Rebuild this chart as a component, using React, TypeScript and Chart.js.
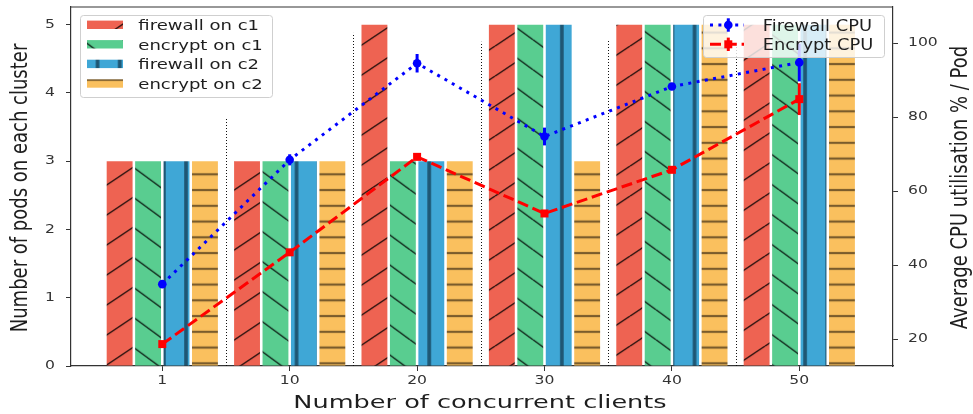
import React, { useEffect, useRef } from 'react';
import { Chart, registerables } from 'chart.js';

Chart.register(...registerables);

// ---------- data ----------
const CLIENTS = ['1', '10', '20', '30', '40', '50'];
const X_POS = [0, 1, 2, 3, 4, 5];
const FIREWALL_C1 = [3, 3, 5, 5, 5, 5];
const ENCRYPT_C1 = [3, 3, 3, 5, 5, 5];
const FIREWALL_C2 = [3, 3, 3, 5, 5, 5];
const ENCRYPT_C2 = [3, 3, 3, 3, 5, 5];
const FIREWALL_CPU = [34.9, 68.5, 94.6, 74.8, 88.3, 94.8];
const FIREWALL_CPU_ERR = [0.5, 1.5, 2.5, 2.4, 0.4, 5.1];
const ENCRYPT_CPU = [18.7, 43.5, 69.3, 54.0, 65.8, 84.9];
const ENCRYPT_CPU_ERR = [0.5, 0.5, 0.6, 0.5, 0.8, 4.3];
const LEFT_TICKS = [0, 1, 2, 3, 4, 5];
const RIGHT_TICKS = [20, 40, 60, 80, 100];
const SEPARATOR_X = [0.5, 1.5, 2.5, 3.5, 4.5];
const SEPARATOR_TOP = [3.63, 4.88, 4.75, 4.79, 4.7];
const BAR_LABELS = ['firewall on c1', 'encrypt on c1', 'firewall on c2', 'encrypt on c2'];
const LINE_LABELS = ['Firewall CPU', 'Encrypt CPU'];
const X_TITLE = 'Number of concurrent clients';
const Y_TITLE = 'Number of pods on each cluster';
const Y1_TITLE = 'Average CPU utilisation % / Pod';

const FONT = '"DejaVu Sans", sans-serif';
const BAR_COLORS = ['#EE6352', '#59CD90', '#3FA7D6', '#FAC05E'];

function makePattern(ctx: CanvasRenderingContext2D, kind: string, base: string): CanvasPattern {
  const c = document.createElement('canvas');
  let w = 10, h = 10;
  if (kind === '/') { w = 45; h = 30; }
  if (kind === '\\') { w = 41; h = 30; }
  if (kind === '|') { w = 22; h = 4; }
  if (kind === '-') { w = 4; h = 16; }
  c.width = w; c.height = h;
  const g = c.getContext('2d')!;
  g.fillStyle = base;
  g.fillRect(0, 0, w, h);
  if (kind === '/' || kind === '\\') {
    g.strokeStyle = 'rgba(0,0,0,0.85)';
    g.lineWidth = 1.4;
    for (let k = -1; k <= 1; k++) {
      g.beginPath();
      if (kind === '/') { g.moveTo(0, h + k * h); g.lineTo(w, k * h); }
      else { g.moveTo(0, k * h); g.lineTo(w, h + k * h); }
      g.stroke();
    }
  } else if (kind === '|') {
    g.fillStyle = '#1f5673';
    g.fillRect(9.2, 0, 3.6, h);
  } else if (kind === '-') {
    g.fillStyle = '#7a5c2c';
    g.fillRect(0, 6.9, w, 2.2);
  }
  const p = ctx.createPattern(c, 'repeat')!;
  let m = new DOMMatrix();
  if (kind === '/') m = m.translate(0, 16.1);
  if (kind === '\\') m = m.translate(0, 9.7);
  if (kind === '|') m = m.translate(-1.95, 0).scale(22.11 / 22, 1);
  if (kind === '-') m = m.translate(0, -6.83).scale(1, 15.75 / 16);
  p.setTransform(m);
  return p;
}

export default function App() {
  const ref = useRef<HTMLCanvasElement>(null);

  useEffect(() => {
    const canvas = ref.current!;
    const ctx = canvas.getContext('2d')!;
    const origFill = CanvasRenderingContext2D.prototype.fillText;
    const stretch = { sx: 1.3 };
    // horizontal (screen-x) stretch of text glyphs around their anchor point
    (ctx as any).fillText = function (text: string, x: number, y: number, maxWidth?: number) {
      const m = ctx.getTransform();
      const p = m.transformPoint(new DOMPoint(x, y));
      ctx.save();
      ctx.setTransform(new DOMMatrix().translate(p.x, p.y).scale(stretch.sx, 1).translate(-p.x, -p.y).multiply(m));
      if (maxWidth === undefined) origFill.call(ctx, text, x, y);
      else origFill.call(ctx, text, x, y, maxWidth);
      ctx.restore();
    };

    const patterns = [
      makePattern(ctx, '/', BAR_COLORS[0]),
      makePattern(ctx, '\\', BAR_COLORS[1]),
      makePattern(ctx, '|', BAR_COLORS[2]),
      makePattern(ctx, '-', BAR_COLORS[3]),
    ];
    const barSeries = [FIREWALL_C1, ENCRYPT_C1, FIREWALL_C2, ENCRYPT_C2];

    const drawText = (text: string, x: number, y: number, font: string, sx: number,
      align: CanvasTextAlign, rot = 0, color = '#1e1e1e') => {
      ctx.save();
      ctx.translate(x, y);
      ctx.scale(sx, 1);
      if (rot) ctx.rotate(rot);
      ctx.font = font;
      ctx.fillStyle = color;
      ctx.textAlign = align;
      ctx.textBaseline = 'alphabetic';
      origFill.call(ctx, text, 0, 0);
      ctx.restore();
    };

    const drawMarker = (kind: string, x: number, y: number, color: string) => {
      ctx.fillStyle = color;
      if (kind === 'circle') {
        ctx.beginPath(); ctx.arc(x, y, 4.3, 0, Math.PI * 2); ctx.fill();
      } else {
        ctx.fillRect(x - 4, y - 4, 8, 8);
      }
    };

    const plugin = {
      id: 'extras',
      beforeDatasetsDraw(chart: any) {
        const { x, y } = chart.scales;
        ctx.save();
        ctx.strokeStyle = '#111';
        ctx.lineWidth = 1;
        ctx.setLineDash([1, 2]);
        SEPARATOR_X.forEach((v, i) => {
          const px = Math.round(x.getPixelForValue(v)) + 0.5;
          ctx.beginPath();
          ctx.moveTo(px, y.getPixelForValue(0));
          ctx.lineTo(px, y.getPixelForValue(SEPARATOR_TOP[i]));
          ctx.stroke();
        });
        ctx.restore();
      },
      afterDatasetsDraw(chart: any) {
        const { x, y1 } = chart.scales;
        ctx.save();
        ctx.lineWidth = 3;
        const sets: [number[], number[], string][] = [
          [FIREWALL_CPU, FIREWALL_CPU_ERR, '#0000ff'],
          [ENCRYPT_CPU, ENCRYPT_CPU_ERR, '#ff0000'],
        ];
        sets.forEach(([vals, errs, col]) => {
          ctx.strokeStyle = col;
          vals.forEach((v, i) => {
            const px = x.getPixelForValue(X_POS[i]);
            ctx.beginPath();
            ctx.moveTo(px, y1.getPixelForValue(v - errs[i]));
            ctx.lineTo(px, y1.getPixelForValue(v + errs[i]));
            ctx.stroke();
          });
        });
        ctx.restore();
      },
      afterDraw(chart: any) {
        const area = chart.chartArea;
        ctx.save();
        // top spine
        ctx.strokeStyle = '#333';
        ctx.lineWidth = 1.2;
        ctx.beginPath();
        ctx.moveTo(area.left, area.top);
        ctx.lineTo(area.right, area.top);
        ctx.stroke();

        const roundBox = (x0: number, y0: number, x1: number, y1: number) => {
          ctx.beginPath();
          ctx.roundRect(x0 + 0.5, y0 + 0.5, x1 - x0, y1 - y0, 3);
          ctx.fillStyle = 'rgba(255,255,255,0.8)';
          ctx.fill();
          ctx.strokeStyle = '#cfcfcf';
          ctx.lineWidth = 1;
          ctx.stroke();
        };
        // bar legend
        roundBox(80, 15, 272, 97);
        const rows1 = [24.8, 44.3, 63.9, 83.5];
        BAR_LABELS.forEach((lab, i) => {
          ctx.fillStyle = patterns[i];
          ctx.fillRect(87, rows1[i] - 4.2, 36, 8.4);
          drawText(lab, 138.3, rows1[i] + 5.2, `14px ${FONT}`, 1.29, 'left');
        });

        // line legend
        roundBox(703, 15, 884, 57);
        const rows2 = [25, 44.3];
        const styles = [
          { col: '#0000ff', dash: [3, 5.4], marker: 'circle' },
          { col: '#ff0000', dash: [11, 4.8], marker: 'rect' },
        ];
        LINE_LABELS.forEach((lab, i) => {
          const s = styles[i];
          const yy = rows2[i];
          ctx.save();
          ctx.strokeStyle = s.col;
          ctx.lineWidth = 3;
          ctx.setLineDash(s.dash);
          ctx.beginPath(); ctx.moveTo(710, yy); ctx.lineTo(744, yy); ctx.stroke();
          ctx.setLineDash([]);
          ctx.beginPath(); ctx.moveTo(728.3, yy - 6.7); ctx.lineTo(728.3, yy + 6.7); ctx.stroke();
          drawMarker(s.marker, 728.3, yy, s.col);
          ctx.restore();
          drawText(lab, 762.7, yy + 5.5, `15px ${FONT}`, 1.19, 'left');
        });

        // axis titles
        drawText(X_TITLE, 480, 408, `18px ${FONT}`, 1.42, 'center');
        drawText(Y_TITLE, 26.5, 188, `18px ${FONT}`, 1.3, 'center', -Math.PI / 2);
        drawText(Y1_TITLE, 966.5, 187.5, `18px ${FONT}`, 1.3, 'center', -Math.PI / 2);
        ctx.restore();
      },
    };

    const axisCommon = (tickLen: number, pad: number) => ({
      grid: { display: true, drawOnChartArea: false, drawTicks: true, tickLength: tickLen, color: '#333', lineWidth: 1, offset: false },
      border: { display: true, color: '#333', width: 1.2 },
      ticks: { font: { family: FONT, size: 12 }, color: '#333', padding: pad, autoSkip: false, maxRotation: 0 },
      z: 1,
    });
    const noPad = (s: any) => { s.paddingTop = 0; s.paddingBottom = 0; s.paddingLeft = 0; s.paddingRight = 0; };

    const chart = new Chart(ctx, {
      type: 'bar',
      data: {
        datasets: [
          {
            type: 'line', label: LINE_LABELS[0],
            data: X_POS.map((x, i) => ({ x, y: FIREWALL_CPU[i] })),
            yAxisID: 'y1', borderColor: '#0000ff', backgroundColor: '#0000ff',
            borderWidth: 3, borderDash: [3, 5.4], pointStyle: 'circle', pointRadius: 4.3,
            pointBorderWidth: 0, pointBackgroundColor: '#0000ff', fill: false, tension: 0, order: 0,
          },
          {
            type: 'line', label: LINE_LABELS[1],
            data: X_POS.map((x, i) => ({ x, y: ENCRYPT_CPU[i] })),
            yAxisID: 'y1', borderColor: '#ff0000', backgroundColor: '#ff0000',
            borderWidth: 3, borderDash: [11, 4.8], pointStyle: 'rect', pointRadius: 5.66,
            pointBorderWidth: 0, pointBackgroundColor: '#ff0000', fill: false, tension: 0, order: 0,
          },
          ...barSeries.map((vals, k) => ({
            type: 'bar', label: BAR_LABELS[k],
            data: X_POS.map((x, i) => ({ x, y: vals[i] })),
            yAxisID: 'y', backgroundColor: patterns[k], borderWidth: 0, order: 1,
            categoryPercentage: 0.893, barPercentage: 0.91,
          })),
        ] as any,
      },
      options: {
        animation: false,
        responsive: false,
        maintainAspectRatio: false,
        devicePixelRatio: 1,
        events: [],
        layout: { padding: { top: 7, left: 0, right: 0, bottom: 0 } },
        plugins: { legend: { display: false }, tooltip: { enabled: false } },
        scales: {
          x: {
            type: 'linear', position: 'bottom', min: -0.7166, max: 5.7355, offset: false,
            ...axisCommon(5, 3),
            ticks: { ...axisCommon(5, 3).ticks, callback: (v: any) => CLIENTS[v] ?? '' },
            afterBuildTicks: (s: any) => { s.ticks = X_POS.map((v) => ({ value: v })); },
            afterFit: (s: any) => { s.height = 48; noPad(s); },
          },
          y: {
            type: 'linear', position: 'left', min: 0, max: 5.26,
            ...axisCommon(5, 11),
            afterBuildTicks: (s: any) => { s.ticks = LEFT_TICKS.map((v) => ({ value: v })); },
            afterFit: (s: any) => { s.width = 71; noPad(s); },
          },
          y1: {
            type: 'linear', position: 'right', min: 12.78, max: 109.8,
            ...axisCommon(5, 10),
            afterBuildTicks: (s: any) => { s.ticks = RIGHT_TICKS.map((v) => ({ value: v })); },
            afterFit: (s: any) => { s.width = 80; noPad(s); },
          },
        } as any,
      },
      plugins: [plugin],
    });

    return () => { chart.destroy(); };
  }, []);

  return (
    <div style={{ position: 'fixed', left: 0, top: 0, width: 973, height: 414, background: '#fff' }}>
      <canvas ref={ref} width={973} height={414} style={{ display: 'block', width: 973, height: 414 }} />
    </div>
  );
}
